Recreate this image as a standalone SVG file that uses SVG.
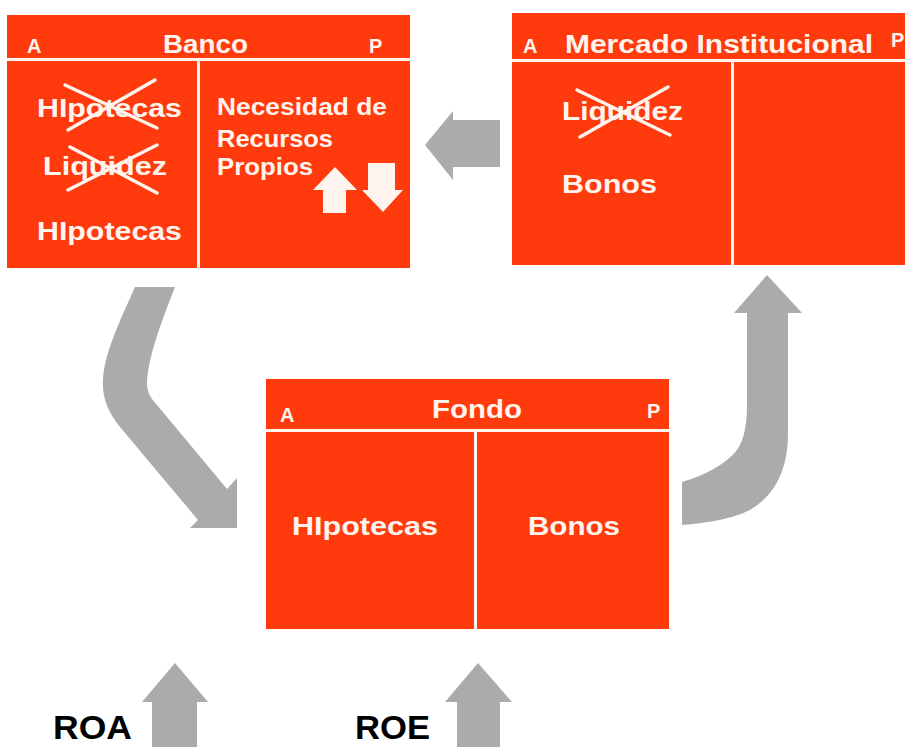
<svg xmlns="http://www.w3.org/2000/svg" width="905" height="747" viewBox="0 0 905 747">
<style>
.box{fill:#FF3A0C}
.sep{fill:#FFF4EE}
.hd{font-family:"Liberation Sans",Arial,sans-serif;fill:#FFF4EE;font-size:26px;font-weight:bold}
.ap{font-family:"Liberation Sans",Arial,sans-serif;fill:#FFF4EE;font-size:20px;font-weight:bold}
.lb{font-family:"Liberation Sans",Arial,sans-serif;fill:#FFF4EE;font-size:26px;font-weight:bold}
.sm{font-family:"Liberation Sans",Arial,sans-serif;fill:#FFF4EE;font-size:23px;font-weight:bold}
.x{stroke:#FFF4EE;stroke-width:3.5;stroke-linecap:round;fill:none}
.arr{fill:#ABABAB}
.rt{font-family:"Liberation Sans",Arial,sans-serif;fill:#000;font-size:33px;font-weight:bold}
</style>
<rect width="905" height="747" fill="#fff"/>

<g id="connectors">
  <path class="arr" d="M500,120 L453,120 L453,111 L425,145 L453,180 L453,167 L500,167 Z"/>
  <path class="arr" d="M135,287 L175,287 C158,330 148,360 147,383 C147,392 150,397 157,405 L227,489 L237,478 L237,528 L190,528 L198,520 L120,427 C108,412 102,398 103,380 C104,355 118,325 135,287 Z"/>
  <path class="arr" d="M682,482 C705,475 725,465 737,450 C744,440 747,425 747,405 L747,313 L734,313 L767,275 L802,313 L788,313 L788,433 C788,470 775,495 750,510 C730,520 705,523 682,525 Z"/>
</g>

<g id="banco">
  <rect class="box" x="7" y="15" width="403" height="253"/>
  <rect class="sep" x="7" y="58" width="403" height="3"/>
  <rect class="sep" x="197" y="61" width="3" height="207"/>
  <text class="ap" x="27" y="53">A</text>
  <text class="hd" x="163" y="53" textLength="85" lengthAdjust="spacingAndGlyphs">Banco</text>
  <text class="ap" x="369" y="53">P</text>
  <text class="lb" x="37" y="117" textLength="145" lengthAdjust="spacingAndGlyphs">HIpotecas</text>
  <text class="lb" x="43" y="175" textLength="124" lengthAdjust="spacingAndGlyphs">Liquidez</text>
  <text class="lb" x="37" y="240" textLength="145" lengthAdjust="spacingAndGlyphs">HIpotecas</text>
  <path class="x" d="M65,85 L157,128 M68,130 L155,80"/>
  <path class="x" d="M70,147 L157,193 M68,190 L157,145"/>
  <text class="sm" x="217" y="115" textLength="170" lengthAdjust="spacingAndGlyphs">Necesidad de</text>
  <text class="sm" x="217" y="147" textLength="116" lengthAdjust="spacingAndGlyphs">Recursos</text>
  <text class="sm" x="217" y="175" textLength="96" lengthAdjust="spacingAndGlyphs">Propios</text>
  <path fill="#FFF4EE" d="M335,167 L357,190 L346,190 L346,213 L323,213 L323,190 L313,190 Z"/>
  <path fill="#FFF4EE" d="M368,163 L395,163 L395,190 L403,190 L383,212 L362,190 L368,190 Z"/>
</g>

<g id="mercado">
  <rect class="box" x="512" y="13" width="400" height="252"/>
  <rect class="sep" x="512" y="59" width="400" height="3"/>
  <rect class="sep" x="731" y="62" width="3" height="203"/>
  <text class="ap" x="523" y="53">A</text>
  <text class="hd" x="565" y="53" textLength="308" lengthAdjust="spacingAndGlyphs">Mercado Institucional</text>
  <text class="ap" x="891" y="47">P</text>
  <text class="lb" x="562" y="120" textLength="121" lengthAdjust="spacingAndGlyphs">Liquidez</text>
  <path class="x" d="M577,90 L670,135 M580,137 L668,87"/>
  <text class="lb" x="562" y="193" textLength="95" lengthAdjust="spacingAndGlyphs">Bonos</text>
</g>

<g id="fondo">
  <rect class="box" x="266" y="379" width="403" height="250"/>
  <rect class="sep" x="266" y="429" width="403" height="3"/>
  <rect class="sep" x="474" y="432" width="3" height="197"/>
  <text class="ap" x="280" y="422">A</text>
  <text class="hd" x="432" y="418" textLength="90" lengthAdjust="spacingAndGlyphs">Fondo</text>
  <text class="ap" x="647" y="418">P</text>
  <text class="lb" x="292" y="535" textLength="146" lengthAdjust="spacingAndGlyphs">HIpotecas</text>
  <text class="lb" x="528" y="535" textLength="92" lengthAdjust="spacingAndGlyphs">Bonos</text>
</g>

<g id="roa">
  <path class="arr" d="M175,663 L208,702 L197,702 L197,747 L152,747 L152,702 L142,702 Z"/>
  <text class="rt" x="53" y="739" textLength="79" lengthAdjust="spacingAndGlyphs">ROA</text>
</g>
<g id="roe">
  <path class="arr" d="M478,663 L512,702 L500,702 L500,747 L457,747 L457,702 L445,702 Z"/>
  <text class="rt" x="355" y="739" textLength="75" lengthAdjust="spacingAndGlyphs">ROE</text>
</g>
</svg>
